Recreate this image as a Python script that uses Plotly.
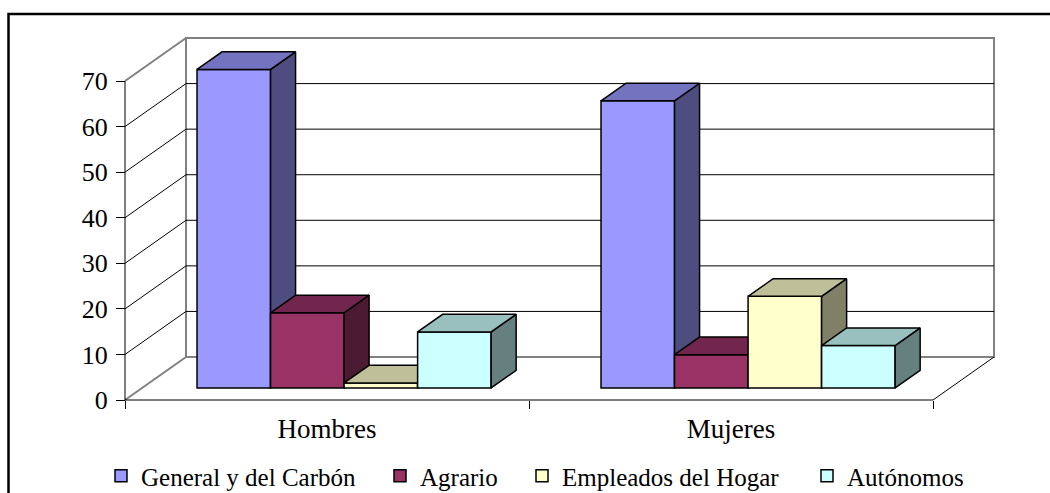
import plotly.graph_objects as go

# ---------------- data ----------------
categories = ["Hombres", "Mujeres"]
series_names = ["General y del Carbón", "Agrario", "Empleados del Hogar", "Autónomos"]
hombres = [69.9, 16.5, 1.1, 12.3]
mujeres = [63.0, 7.3, 20.1, 9.3]
y_ticks = [0, 10, 20, 30, 40, 50, 60, 70]

front_colors = ["#9999FF", "#993366", "#FFFFCC", "#CCFFFF"]
top_colors = ["#7373BF", "#73264D", "#BFBF99", "#99BFBF"]
side_colors = ["#4D4D80", "#4D1A33", "#808066", "#668080"]

# ---------------- geometry (layout constants) ----------------
W, H = 1050, 493
PX0, PXC = 125, 404      # pixel of category origin, pixels per category
PY0, PYU = 400, 4.557    # pixel of value 0, pixels per value unit
DX = 61 / PXC            # full depth offset (x, category units)
DY = 43 / PYU            # full depth offset (y, value units)
F_FRONT = 0.28           # depth position of bar front faces
F_DEPTH = 0.41           # bar depth
BAR_W = 0.182
YMAX = y_ticks[-1]
NCAT = len(categories)
FONT = "Liberation Serif, Times New Roman, serif"

xr = [(0 - PX0) / PXC, (W - PX0) / PXC]
yr = [(PY0 - H) / PYU, PY0 / PYU]

fig = go.Figure()

# ---------------- walls, floor and gridlines ----------------
gx, gy = [], []
def seg(xs, ys, X, Y):
    X.extend(xs + [None]); Y.extend(ys + [None])

# gray frame lines
seg([DX, DX, NCAT + DX, NCAT + DX, DX], [DY, YMAX + DY, YMAX + DY, DY, DY], gx, gy)
seg([0, DX], [YMAX, YMAX + DY], gx, gy)
seg([0, DX], [0, DY], gx, gy)
fig.add_trace(go.Scatter(x=gx, y=gy, mode="lines", line=dict(color="#808080", width=2),
                         hoverinfo="skip", showlegend=False, zorder=0))

bx, by = [], []
for v in y_ticks[1:-1]:
    seg([DX, NCAT + DX], [v + DY, v + DY], bx, by)
    seg([0, DX], [v, v + DY], bx, by)
seg([0, 0], [0, YMAX], bx, by)
seg([0, NCAT, NCAT + DX], [0, 0, DY], bx, by)
fig.add_trace(go.Scatter(x=bx, y=by, mode="lines", line=dict(color="black", width=1),
                         hoverinfo="skip", showlegend=False, zorder=0))

# ---------------- 3D bars ----------------
values_by_cat = [hombres, mujeres]
base = F_FRONT * DY
ddx, ddy = F_DEPTH * DX, F_DEPTH * DY
legend_centers = [121, 400, 542, 827]

for i, name in enumerate(series_names):
    vals = [values_by_cat[c][i] for c in range(NCAT)]
    xs = [c + 0.5 + (i - 1.5) * BAR_W + F_FRONT * DX for c in range(NCAT)]
    sx, sy, tx, ty = [], [], [], []
    for xc, v in zip(xs, vals):
        xl, xrr = xc - BAR_W / 2, xc + BAR_W / 2
        t = base + v
        seg([xrr, xrr + ddx, xrr + ddx, xrr, xrr], [base, base + ddy, t + ddy, t, base], sx, sy)
        seg([xl, xl + ddx, xrr + ddx, xrr, xl], [t, t + ddy, t + ddy, t, t], tx, ty)
    fig.add_trace(go.Scatter(x=sx, y=sy, mode="lines", fill="toself", fillcolor=side_colors[i],
                             line=dict(color="black", width=1.5), hoverinfo="skip",
                             showlegend=False, zorder=i + 1))
    fig.add_trace(go.Scatter(x=tx, y=ty, mode="lines", fill="toself", fillcolor=top_colors[i],
                             line=dict(color="black", width=1.5), hoverinfo="skip",
                             showlegend=False, zorder=i + 1))
    lg = "legend" if i == 0 else f"legend{i + 1}"
    fig.add_trace(go.Bar(x=xs, y=vals, base=base, width=BAR_W, name=name,
                         marker=dict(color=front_colors[i], line=dict(color="black", width=1.5)),
                         zorder=i + 1, legend=lg))

# ---------------- layout ----------------
layout = dict(
    width=W, height=H,
    margin=dict(l=0, r=0, t=0, b=0, autoexpand=False),
    paper_bgcolor="white", plot_bgcolor="white",
    barmode="overlay",
    font=dict(family=FONT, color="black", size=25),
    xaxis=dict(range=xr, domain=[0, 1], anchor="free", position=(H - PY0) / H,
               showgrid=False, zeroline=False, showline=False, automargin=False,
               tickmode="array", tickvals=[c + 0.5 for c in range(NCAT)], ticktext=categories,
               ticks="", tickfont=dict(size=27, family=FONT), ticklabelstandoff=10,
               minor=dict(tickmode="array", tickvals=list(range(NCAT + 1)), ticks="outside",
                          ticklen=8, tickcolor="black", tickwidth=1, showgrid=False)),
    yaxis=dict(range=yr, domain=[0, 1], anchor="free", position=PX0 / W,
               showgrid=False, zeroline=False, showline=False, automargin=False,
               tickmode="array", tickvals=y_ticks, ticks="outside", ticklen=9,
               ticklabelstandoff=3,
               tickcolor="black", tickwidth=1, tickfont=dict(size=26, family=FONT)),
    shapes=[dict(type="rect", xref="paper", yref="paper", x0=8.5 / W, x1=1.05,
                 y0=-0.1, y1=(H - 14) / H, line=dict(color="black", width=2.5),
                 fillcolor="rgba(0,0,0,0)", layer="above")],
)
for i, mc in enumerate(legend_centers):
    lg = "legend" if i == 0 else f"legend{i + 1}"
    layout[lg] = dict(x=(mc - 20) / W, xanchor="left", y=(H - 476) / H, yanchor="middle",
                      orientation="h", bgcolor="rgba(0,0,0,0)", borderwidth=0,
                      font=dict(size=25, family=FONT, color="black"))
fig.update_layout(**layout)

fig.write_html("out.html", config={"displayModeBar": False},
               post_script="document.body.style.margin='0';")
